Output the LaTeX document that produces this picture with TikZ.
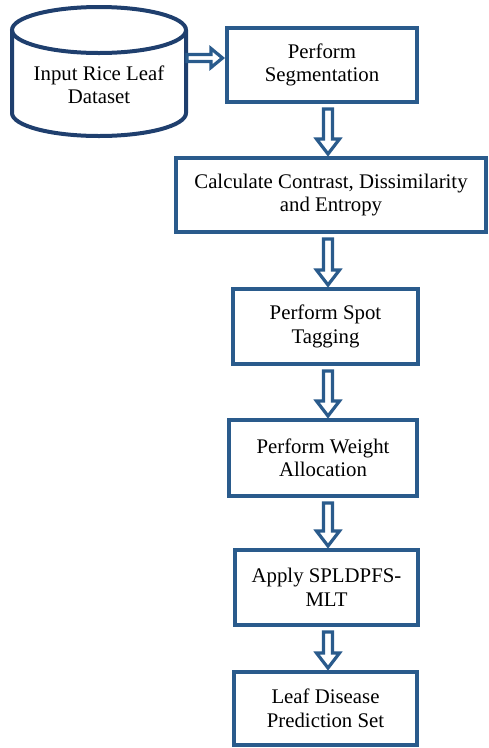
\documentclass[tikz,border=0pt]{standalone}
\usepackage{fontspec}
\setmainfont{Liberation Serif}
\usetikzlibrary{calc}
\definecolor{boxblue}{HTML}{2A5B8C}
\definecolor{cylblue}{HTML}{1F3F6E}
\tikzset{
  stepbox/.style={draw=boxblue, line width=4pt, fill=white, align=center,
    inner sep=0pt, font=\fontsize{20.8}{23.5}\selectfont},
  blockarrow/.style={draw=boxblue, line width=3.2pt, fill=white, line join=miter},
  cylline/.style={draw=cylblue, line width=4pt}
}
\newcommand{\flowdown}[2]{%
  \draw[blockarrow] let \p1=($(#1.south -| col)$), \p2=($(#2.north -| col)$) in
    (\x1-4.5pt,\y1-5pt) -- (\x1-4.5pt,\y2+17pt) -- (\x1-11.5pt,\y2+17pt) -- (\x1,\y2+2pt)
    -- (\x1+11.5pt,\y2+17pt) -- (\x1+4.5pt,\y2+17pt) -- (\x1+4.5pt,\y1-5pt) -- cycle;}
\begin{document}
\begin{tikzpicture}[x=1pt,y=1pt]
\useasboundingbox (0,0) rectangle (488,-748);
% cylinder
\draw[cylline] (12,-30) -- (12,-113) arc[start angle=180,end angle=360,x radius=87,y radius=23] -- (186,-30);
\draw[cylline] (99,-30) ellipse[x radius=87, y radius=23];
\node[align=center, font=\fontsize{20.8}{23.5}\selectfont] (db) at (99,-85) {Input Rice Leaf\\Dataset};
\coordinate (dbright) at (187,-58);
\coordinate (col) at (328,0);
% boxes
\node[stepbox, minimum width=190pt, minimum height=74pt] (b1) at (322,-65) {Perform\\Segmentation};
\node[stepbox, minimum width=310pt, minimum height=74pt] (b2) at (331,-195) {Calculate Contrast, Dissimilarity\\and Entropy};
\node[stepbox, minimum width=185pt, minimum height=75pt] (b3) at (325.5,-326.5) {Perform Spot\\Tagging};
\node[stepbox, minimum width=188pt, minimum height=76pt] (b4) at (323,-458) {Perform Weight\\Allocation};
\node[stepbox, minimum width=183pt, minimum height=75pt] (b5) at (326.5,-587.5) {Apply SPLDPFS-\\MLT};
\node[stepbox, minimum width=183pt, minimum height=73pt] (b6) at (325.5,-708.5) {Leaf Disease\\Prediction Set};
% horizontal arrow
\draw[blockarrow] let \p1=(dbright), \p2=($(b1.west |- dbright)$) in
  (\x1,\y1+3.5pt) -- (\x2-14pt,\y1+3.5pt) -- (\x2-14pt,\y1+9.5pt) -- (\x2-2.5pt,\y1)
  -- (\x2-14pt,\y1-9.5pt) -- (\x2-14pt,\y1-3.5pt) -- (\x1,\y1-3.5pt) -- cycle;
% vertical arrows
\flowdown{b1}{b2}
\flowdown{b2}{b3}
\flowdown{b3}{b4}
\flowdown{b4}{b5}
\flowdown{b5}{b6}
\end{tikzpicture}
\end{document}
